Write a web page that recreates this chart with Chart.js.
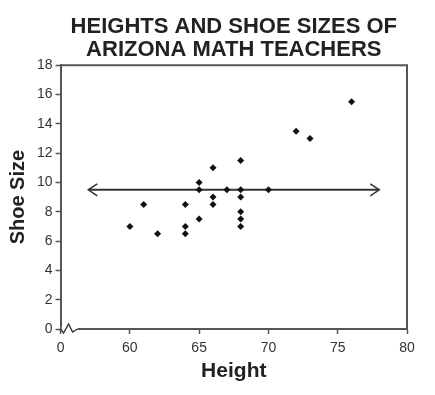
<!DOCTYPE html>
<html>
<head>
<meta charset="utf-8">
<script src="https://cdn.jsdelivr.net/npm/chart.js@4"></script>
<style>
  body { margin: 0; background: #fff; }
  #wrap { width: 435px; height: 395px; }
</style>
</head>
<body>
<div id="wrap"><canvas id="shoeChart" width="435" height="395"></canvas></div>
<script>
// heights (inches) and shoe sizes
const heights = [60, 61, 62, 64, 64, 64, 65, 65, 65, 66, 66, 66, 67, 68, 68, 68, 68, 68, 68, 70, 72, 73, 76];
const shoeSizes = [7, 8.5, 6.5, 8.5, 7, 6.5, 10, 9.5, 7.5, 11, 9, 8.5, 9.5, 11.5, 9.5, 9, 8, 7.5, 7, 9.5, 13.5, 13, 15.5];

// horizontal arrow line (mean shoe size)
const lineX = [57, 78];
const lineY = [9.5, 9.5];

const xTicks = [55, 60, 65, 70, 75, 80];
const xTickLabels = ["0", "60", "65", "70", "75", "80"];

const axisColor = "#555";
const textColor = "#222";
const fontFam = "Liberation Sans, Arial, sans-serif";

const points = heights.map((h, i) => ({ x: h, y: shoeSizes[i] }));
const linePts = lineX.map((x, i) => ({ x: x, y: lineY[i] }));

// box, arrowheads and axis break
const extras = {
    id: "extras",
    afterDatasetsDraw(chart) {
        const ctx = chart.ctx;
        const a = chart.chartArea;
        ctx.save();
        ctx.strokeStyle = axisColor;
        ctx.lineWidth = 2;
        ctx.beginPath();
        ctx.moveTo(a.left, a.top);
        ctx.lineTo(a.right, a.top);
        ctx.lineTo(a.right, a.bottom);
        ctx.stroke();

        // arrow heads
        const meta = chart.getDatasetMeta(1);
        const p0 = meta.data[0], p1 = meta.data[1];
        ctx.strokeStyle = "#333";
        ctx.lineWidth = 1.5;
        ctx.beginPath();
        ctx.moveTo(p0.x + 9, p0.y - 6);
        ctx.lineTo(p0.x, p0.y);
        ctx.lineTo(p0.x + 9, p0.y + 6);
        ctx.moveTo(p1.x - 9, p1.y - 6);
        ctx.lineTo(p1.x, p1.y);
        ctx.lineTo(p1.x - 9, p1.y + 6);
        ctx.stroke();

        // zigzag break on x axis
        const y = a.bottom;
        const x0 = a.left;
        ctx.fillStyle = "#fff";
        ctx.fillRect(x0 + 1, y - 2, 16, 4);
        ctx.strokeStyle = "#333";
        ctx.lineWidth = 1.3;
        ctx.beginPath();
        ctx.moveTo(x0, y);
        ctx.lineTo(x0 + 3, y + 4);
        ctx.lineTo(x0 + 8, y - 5);
        ctx.lineTo(x0 + 12, y + 3);
        ctx.lineTo(x0 + 17, y);
        ctx.stroke();
        ctx.restore();
    }
};

new Chart(document.getElementById("shoeChart"), {

    type: "scatter",

    data: {
        datasets: [
            {
                label: "Teachers",
                data: points,
                pointStyle: "rectRot",
                pointRadius: 3.5,
                backgroundColor: "#111",
                borderColor: "#111",
                borderWidth: 0
            },
            {
                label: "Line",
                type: "line",
                data: linePts,
                borderColor: "#333",
                borderWidth: 1.8,
                pointRadius: 0,
                fill: false
            }
        ]
    },

    options: {
        responsive: false,
        animation: false,
        layout: {
            padding: { left: 2, right: 28, top: 0, bottom: 7 }
        },
        plugins: {
            legend: { display: false },
            tooltip: { enabled: false },
            title: {
                display: true,
                fullSize: false,
                text: ["HEIGHTS AND SHOE SIZES OF", "ARIZONA MATH TEACHERS"],
                color: textColor,
                font: { family: fontFam, size: 22, weight: "bold", lineHeight: 1.05 },
                padding: { top: 15, bottom: 4 }
            }
        },
        scales: {
            x: {
                type: "linear",
                min: 55,
                max: 80,
                afterBuildTicks: function(scale) {
                    scale.ticks = xTicks.map(v => ({ value: v }));
                },
                ticks: {
                    color: "#333",
                    font: { family: fontFam, size: 14 },
                    padding: 6,
                    callback: function(value) {
                        const i = xTicks.indexOf(value);
                        return i >= 0 ? xTickLabels[i] : "";
                    }
                },
                grid: {
                    drawOnChartArea: false,
                    color: axisColor,
                    tickLength: 5,
                    tickWidth: 1.5
                },
                border: { color: axisColor, width: 2 },
                title: {
                    display: true,
                    text: "Height",
                    color: textColor,
                    font: { family: fontFam, size: 21, weight: "bold" },
                    padding: { top: -4 }
                }
            },
            y: {
                min: 0,
                max: 18,
                ticks: {
                    stepSize: 2,
                    color: "#333",
                    font: { family: fontFam, size: 14 },
                    padding: 3
                },
                grid: {
                    drawOnChartArea: false,
                    color: axisColor,
                    tickLength: 5,
                    tickWidth: 1.5
                },
                border: { color: axisColor, width: 2 },
                title: {
                    display: true,
                    text: "Shoe Size",
                    color: textColor,
                    font: { family: fontFam, size: 20, weight: "bold" },
                    padding: { bottom: 4 }
                }
            }
        }
    },

    plugins: [extras]
});
</script>
</body>
</html>
